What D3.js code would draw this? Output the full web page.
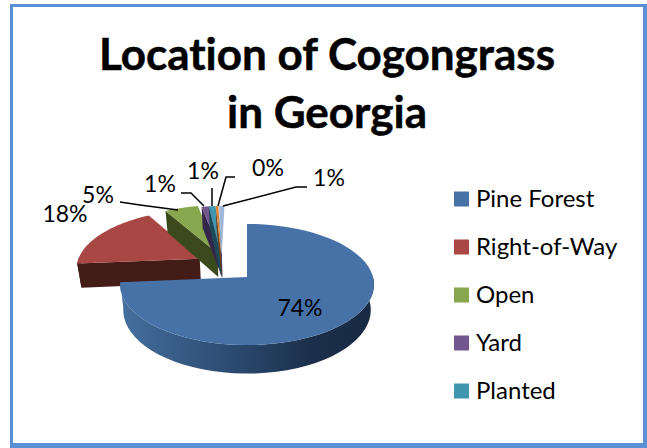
<!DOCTYPE html>
<html><head><meta charset="utf-8">
<script src="https://cdn.jsdelivr.net/npm/d3@7"></script>
<style>html,body{margin:0;padding:0;background:#fff}svg{display:block}text{font-family:Lato,Carlito,sans-serif;fill:#000;font-variant-ligatures:none}</style>
</head><body><svg id="c" width="647" height="448"></svg>
<script>
const titleLines = ["Location of Cogongrass", "in Georgia"];
const categories = ["Pine Forest", "Right-of-Way", "Open", "Yard", "Planted", "Other A", "Other B"];
const values = [73.6, 18, 5, 1.2, 1, 0.4, 0.8];
const colors = ["#4672a8", "#a84744", "#87a64d", "#72578f", "#4096ae", "#dc8436", "#9db6da"];
const sideColors = ["#2c4a70", "#431c18", "#3a4a1c", "#33264a", "#1c4a58", "#6e4018", "#4c5c74"];
const explodeX = [0, -0.39, -0.246, -0.21, -0.218, -0.216, -0.21];
const explodeY = [0, 0.32, 0.42, 0.40, 0.40, 0.40, 0.40];
const legendCount = 5;

const svg = d3.select("#c");
svg.append("rect").attr("x",10).attr("y",4).attr("width",637).attr("height",444).attr("fill","#5b90d6");
svg.append("rect").attr("x",13).attr("y",7).attr("width",630).attr("height",436).attr("fill","#fff");

const defs = svg.append("defs");
const grad = defs.append("linearGradient").attr("id","wall");
[[0,"#456f9f"],[0.45,"#2b4a70"],[0.75,"#1b2f4a"],[1,"#182a42"]].forEach(s=>
  grad.append("stop").attr("offset",s[0]).attr("stop-color",s[1]));

const t = svg.append("text").attr("text-anchor","middle").attr("font-weight",700).attr("font-size",44)
  .attr("stroke","#000").attr("stroke-width",0.5);
titleLines.forEach((l,i)=>t.append("tspan").attr("x",327).attr("y",[70,128][i]).text(l));

// pie in ground-plane coordinates, projected with a small perspective
const cx = 247, cy = 277, rx = 126, ry = 59.6, tilt = 0.124, depth = 25;
const arcs = d3.pie().sort(null)(values);
const toX = d3.scaleLinear().domain([0,1]).range([cx,cx+rx]);
const toY = d3.scaleLinear().domain([0,1]).range([cy,cy-ry]);
function proj(gx,gy,low){
  const s = 1/(1+tilt*gy);
  const k = low ? 0.975 : 1;
  return [toX(gx*s*k), toY(gy*s) + (low ? depth*s : 0)];
}
function pt(i,a,r,low){
  return proj(r*Math.sin(a)+explodeX[i], r*Math.cos(a)+explodeY[i], low);
}
const line = d3.line();
const order = [1,2,3,4,5,6,0];
const pie = svg.append("g");
order.forEach(i=>{
  const a = arcs[i], g = pie.append("g");
  const angs = d3.range(0,61).map(n=>a.startAngle+(a.endAngle-a.startAngle)*n/60);
  if(i!==0){
    g.append("path").attr("fill",sideColors[i]).attr("d",line([
      pt(i,a.startAngle,1,false),pt(i,a.startAngle,0,false),pt(i,a.startAngle,0,true),pt(i,a.startAngle,1,true)])+"Z");
  }
  const front = angs.filter(v=>Math.cos(v)<0.05);
  if(front.length>1){
    g.append("path").attr("fill",i===0?"url(#wall)":sideColors[i]).attr("d",
      line(front.map(v=>pt(i,v,1,false)).concat(front.slice().reverse().map(v=>pt(i,v,1,true))))+"Z");
  }
  g.append("path").attr("fill",colors[i]).attr("d",
    line([pt(i,a.startAngle,0,false)].concat(angs.map(v=>pt(i,v,1,false))))+"Z");
});

// data labels and leader lines
const pct = d3.format(".0f");
const labelX = [300,65,98,160,203,268,329];
const labelY = [316,222,203,192,179,176,186];
const leaders = [null,null,
  [[120,202],[140,205],[178,210]],
  [[181,193],[191,193],[204,206]],
  [[212,188],[212,206]],
  [[235,177],[226,177],[218,206]],
  [[307,187],[296,187],[223,206]]];
leaders.forEach(p=>{ if(p) svg.append("path").attr("fill","none").attr("stroke","#000").attr("stroke-width",1.5).attr("d",line(p)); });
values.forEach((v,i)=>{
  svg.append("text").attr("x",labelX[i]).attr("y",labelY[i]).attr("font-size",23)
    .attr("text-anchor","middle").text(pct(v)+"%");
});

// legend
const legY = d3.scalePoint().domain(categories.slice(0,legendCount)).range([199,391]);
const leg = svg.append("g");
categories.slice(0,legendCount).forEach((c,i)=>{
  const y = legY(c);
  leg.append("rect").attr("x",454).attr("y",y-7.5).attr("width",15).attr("height",15).attr("fill",colors[i]);
  leg.append("text").attr("x",476).attr("y",y+8).attr("font-size",24).text(c);
});
</script></body></html>
